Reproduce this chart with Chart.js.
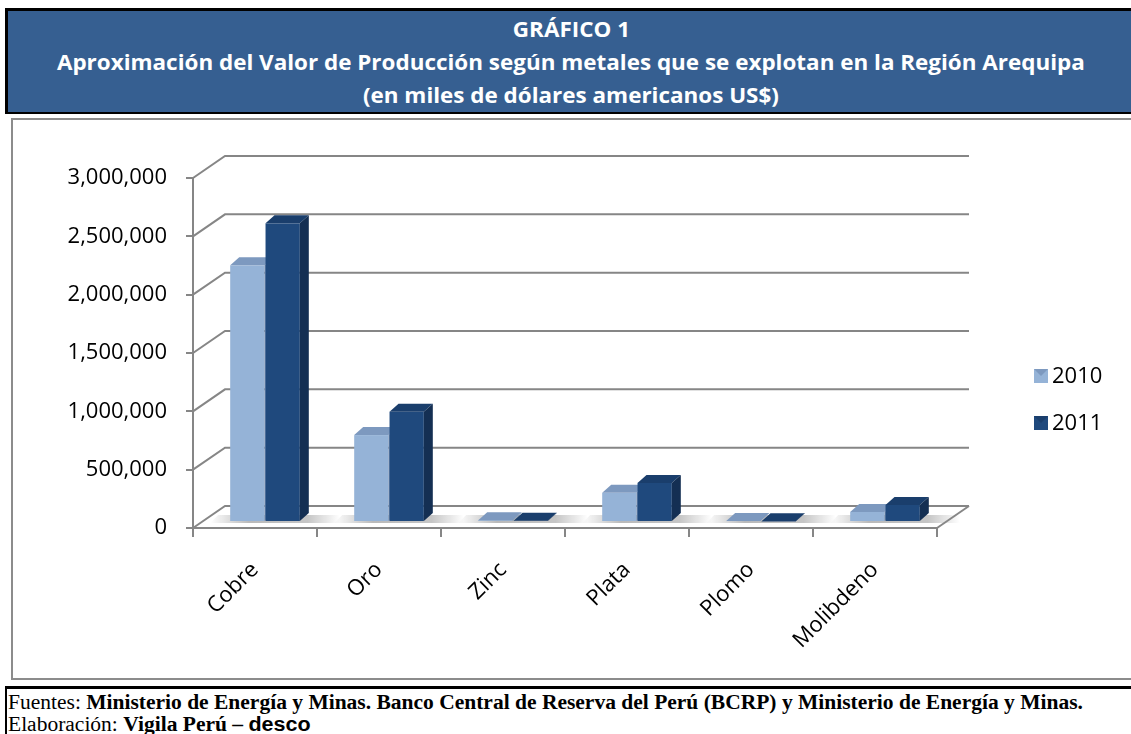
<!DOCTYPE html>
<html lang="es">
<head>
<meta charset="UTF-8" />
<title>Gráfico 1 - Valor de Producción Arequipa</title>
<script src="https://cdn.jsdelivr.net/npm/chart.js"></script>
<style>
  html, body { margin: 0; padding: 0; background: #fff; overflow: hidden; }
  body { width: 1131px; height: 734px; position: relative; }

  .title-box {
    position: absolute; left: 5px; top: 8px; width: 1140px; height: 106px;
    background: #365f91;
    border-top: 3px solid #000; border-left: 3px solid #000; border-bottom: 2px solid #000;
    color: #fff; text-align: center;
    font-family: 'Open Sans', sans-serif; font-weight: bold; font-size: 22px;
    line-height: 33px; padding-top: 1px; box-sizing: border-box;
  }
  .title-box div { width: 1126px; }
  .title-box span { display: inline-block; transform: scaleX(1.02); }

  .chart-box {
    position: absolute; left: 11px; top: 118px; width: 1140px; height: 562px;
    border: 2px solid #8c8c8c; box-sizing: border-box;
  }
  #chart { position: absolute; left: 12px; top: 119px; }

  .footer {
    position: absolute; left: 5px; top: 686px; width: 1140px; height: 60px;
    border-top: 3px solid #000; border-left: 2px solid #000;
    font-family: 'Liberation Serif', 'Times New Roman', serif; font-size: 20px;
    line-height: 22px; padding-left: 1px; padding-top: 2px; box-sizing: border-box;
  }
  .footer div { white-space: nowrap; transform: scaleX(1.075); transform-origin: left center; }
  .footer b { font-weight: bold; }
  .footer .desco { font-family: 'Liberation Sans', Arial, sans-serif; font-weight: bold; font-size: 20px; }
</style>
</head>
<body>

<div class="title-box">
  <div><span>GRÁFICO 1</span></div>
  <div><span>Aproximación del Valor de Producción según metales que se explotan en la Región Arequipa</span></div>
  <div><span>(en miles de dólares americanos US$)</span></div>
</div>

<div class="chart-box"></div>
<canvas id="chart" width="1117" height="559"></canvas>

<div class="footer">
  <div>Fuentes: <b>Ministerio de Energía y Minas. Banco Central de Reserva del Perú (BCRP) y Ministerio de Energía y Minas.</b></div>
  <div>Elaboración: <b>Vigila Perú – </b><span class="desco">desco</span></div>
</div>

<script>
  const metales = ['Cobre', 'Oro', 'Zinc', 'Plata', 'Plomo', 'Molibdeno'];
  const valores2010 = [2200000, 745000, 15000, 250000, 8000, 86000];
  const valores2011 = [2560000, 945000, 10000, 335000, 6000, 146000];
  const yTicks = [0, 500000, 1000000, 1500000, 2000000, 2500000, 3000000];

  // colours per series: front, top, side
  const caras = [
    { front: '#95b3d7', top: '#7d99bf', side: '#7590b4' },
    { front: '#1f497d', top: '#1a3e6c', side: '#142f53' }
  ];

  // 3d offsets (px)
  const DX = 32, DY = -22;   // floor / back wall depth
  const BX = 10, BY = -6;    // bars sit a bit into the floor
  const BDX = 9, BDY = -8;   // bar depth

  const efecto3d = {
    id: 'efecto3d',
    beforeDatasetsDraw(chart) {
      const { ctx, chartArea: a, scales: { y } } = chart;
      ctx.save();

      // back wall gridlines + left wall diagonals
      ctx.strokeStyle = '#868686';
      ctx.lineWidth = 2;
      y.ticks.forEach(t => {
        const py = y.getPixelForValue(t.value);
        ctx.beginPath();
        ctx.moveTo(a.left, py);
        ctx.lineTo(a.left + DX, py + DY);
        ctx.lineTo(a.right + DX, py + DY);
        ctx.stroke();
      });
      ctx.beginPath();
      ctx.moveTo(a.right, a.bottom);
      ctx.lineTo(a.right + DX, a.bottom + DY);
      ctx.stroke();

      // soft shadow on the floor behind each group
      const m0 = chart.getDatasetMeta(0), m1 = chart.getDatasetMeta(1);
      metales.forEach((_, i) => {
        const b0 = m0.data[i], b1 = m1.data[i];
        const l = b0.x - b0.width / 2 + BX, r = b1.x + b1.width / 2 + BX;
        const base = b0.base + BY;
        const g = ctx.createLinearGradient(l - 20, 0, r + 40, 0);
        g.addColorStop(0, 'rgba(140,140,140,0)');
        g.addColorStop(0.3, 'rgba(140,140,140,0.6)');
        g.addColorStop(0.75, 'rgba(140,140,140,0.5)');
        g.addColorStop(1, 'rgba(140,140,140,0)');
        ctx.fillStyle = g;
        ctx.beginPath();
        ctx.moveTo(l - 20, base + 2);
        ctx.lineTo(r + 40, base + 2);
        ctx.lineTo(r + 48, base - 6);
        ctx.lineTo(l - 12, base - 6);
        ctx.closePath();
        ctx.fill();
      });

      // bars: front, top and side faces, from the bar elements
      metales.forEach((_, i) => {
        [m0, m1].forEach((meta, d) => {
          const el = meta.data[i];
          const l = el.x - el.width / 2 + BX, r = el.x + el.width / 2 + BX;
          const t = el.y + BY, b = el.base + BY;
          const c = caras[d];
          ctx.fillStyle = c.front;
          ctx.fillRect(l, t, r - l, b - t);
          ctx.fillStyle = c.top;
          ctx.beginPath();
          ctx.moveTo(l, t); ctx.lineTo(l + BDX, t + BDY);
          ctx.lineTo(r + BDX, t + BDY); ctx.lineTo(r, t);
          ctx.closePath(); ctx.fill();
          ctx.fillStyle = c.side;
          ctx.beginPath();
          ctx.moveTo(r, t); ctx.lineTo(r + BDX, t + BDY);
          ctx.lineTo(r + BDX, b + BDY); ctx.lineTo(r, b);
          ctx.closePath(); ctx.fill();
        });
      });

      ctx.restore();
      return false;
    },
    afterDraw(chart) {
      const ctx = chart.ctx;
      ctx.save();
      ctx.font = '22px "Open Sans", sans-serif';
      ctx.textBaseline = 'middle';
      chart.data.datasets.forEach((ds, d) => {
        const lx = 1022, ly = 257 + d * 47;
        ctx.fillStyle = caras[d].front;
        ctx.fillRect(lx, ly - 7, 14, 14);
        ctx.fillStyle = caras[d].top;
        ctx.beginPath();
        ctx.moveTo(lx, ly - 7); ctx.lineTo(lx + 14, ly - 7); ctx.lineTo(lx + 7, ly);
        ctx.closePath(); ctx.fill();
        ctx.fillStyle = '#000';
        ctx.fillText(ds.label, lx + 18, ly + 1);
      });
      ctx.restore();
    }
  };

  new Chart(document.getElementById('chart'), {
    type: 'bar',
    data: {
      labels: metales,
      datasets: [
        { label: '2010', data: valores2010, backgroundColor: caras[0].front },
        { label: '2011', data: valores2011, backgroundColor: caras[1].front }
      ]
    },
    options: {
      responsive: false,
      animation: false,
      categoryPercentage: 0.57,
      barPercentage: 0.97,
      layout: { padding: { top: 59, right: 192, left: 0, bottom: 0 } },
      plugins: { legend: { display: false }, tooltip: { enabled: false } },
      scales: {
        x: {
          grid: { display: true, drawOnChartArea: false, offset: true, tickLength: 9, color: '#868686', lineWidth: 2 },
          border: { display: true, color: '#868686', width: 2 },
          ticks: {
            color: '#000', font: { family: 'Open Sans', size: 22 },
            minRotation: 45, maxRotation: 45, autoSkip: false, padding: 20
          },
          afterFit(s) { s.height = 150; }
        },
        y: {
          min: yTicks[0], max: yTicks[yTicks.length - 1],
          afterBuildTicks(s) { s.ticks = yTicks.map(v => ({ value: v })); },
          grid: { display: true, drawOnChartArea: false, tickLength: 7, color: '#868686', lineWidth: 2 },
          border: { display: true, color: '#868686', width: 2 },
          ticks: {
            color: '#000', font: { family: 'Open Sans', size: 22 }, padding: 19,
            callback: v => v.toLocaleString('en-US')
          },
          afterFit(s) { s.width = 181; }
        }
      }
    },
    plugins: [efecto3d]
  });
</script>
</body>
</html>
